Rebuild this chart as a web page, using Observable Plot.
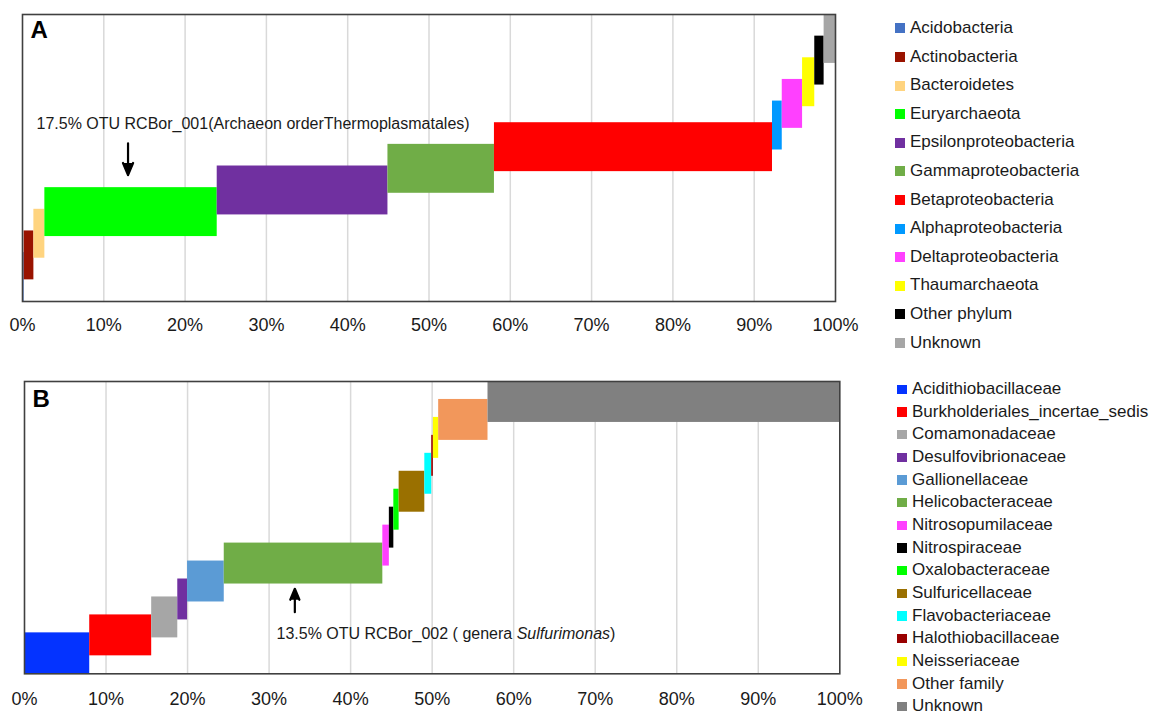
<!DOCTYPE html>
<html><head><meta charset="utf-8">
<script src="https://cdn.jsdelivr.net/npm/d3@7"></script>
<script src="https://cdn.jsdelivr.net/npm/@observablehq/plot@0.6"></script>
<style>
body{margin:0;background:#fff;font-family:"Liberation Sans",Arial,sans-serif;}
#root{position:relative;width:1150px;height:714px;overflow:hidden;background:#fff;}
.panel{position:absolute;left:0;}
.panel svg{overflow:visible;}
.item{position:absolute;white-space:nowrap;color:#1a1a1a;line-height:1;}
.sw{position:absolute;}
</style></head><body><div id="root"></div>
<script>
// ---- Panel A: phyla ----
const phylaA = ["Acidobacteria","Actinobacteria","Bacteroidetes","Euryarchaeota","Epsilonproteobacteria","Gammaproteobacteria","Betaproteobacteria","Alphaproteobacteria","Deltaproteobacteria","Thaumarchaeota","Other phylum","Unknown"];
const valuesA = [0.2, 1.2, 1.35, 21.2, 21.0, 13.1, 34.2, 1.2, 2.5, 1.5, 1.15, 1.4];
const colorsA = ["#4472C4","#991300","#FFD47F","#00FF00","#7030A0","#70AD47","#FF0000","#0099FF","#FF40FF","#FFFF00","#000000","#A6A6A6"];
const noteA = {category: "Euryarchaeota", text: "17.5% OTU RCBor_001(Archaeon orderThermoplasmatales)"};

// ---- Panel B: families ----
const familiesB = ["Acidithiobacillaceae","Burkholderiales_incertae_sedis","Comamonadaceae","Desulfovibrionaceae","Gallionellaceae","Helicobacteraceae","Nitrosopumilaceae","Nitrospiraceae","Oxalobacteraceae","Sulfuricellaceae","Flavobacteriaceae","Halothiobacillaceae","Neisseriaceae","Other family","Unknown"];
const valuesB = [8.0, 7.6, 3.2, 1.2, 4.5, 19.45, 0.8, 0.55, 0.65, 3.15, 0.85, 0.2, 0.65, 6.05, 43.15];
const colorsB = ["#0433FF","#FF0000","#A6A6A6","#7030A0","#5B9BD5","#70AD47","#FF40FF","#000000","#00FF00","#9A7000","#00FFFF","#990000","#FFFF00","#F2975B","#808080"];
const noteB = {category: "Helicobacteraceae", text: "13.5% OTU RCBor_002 ( genera Sulfurimonas)", italic: "Sulfurimonas"};

const xTicks = [0,10,20,30,40,50,60,70,80,90,100];
const gridTicks = [10,20,30,40,50,60,70,80,90];

const FONT = "'Liberation Sans', Arial, sans-serif";

function rowsOf(names, values, span) {
  const cum = d3.cumsum(values);
  return names.map((name, i) => ({name, start: cum[i] - values[i], end: cum[i], lo: i, hi: i + span, mid: cum[i] - values[i] / 2}));
}

function panel(cfg) {
  const rows = rowsOf(cfg.names, cfg.values, cfg.span);
  const target = rows.find(r => r.name === cfg.note.category);
  const up = cfg.noteAbove;
  const arrowRow = [{x: target.mid, y1: up ? target.hi + 2 : target.lo - 2, y2: up ? target.hi : target.lo}];
  const chart = Plot.plot({
    width: 860, height: cfg.height,
    marginLeft: cfg.ml, marginRight: cfg.mr, marginTop: cfg.mt, marginBottom: cfg.mb,
    style: {fontFamily: FONT, fontSize: "17px", background: "white", color: "#1a1a1a", overflow: "visible"},
    x: {domain: [0, 100], axis: null},
    y: {domain: [0, cfg.names.length - 1 + cfg.span], axis: null},
    color: {domain: cfg.names, range: cfg.colors},
    marks: [
      Plot.gridX(gridTicks, {stroke: "#d9d9d9", strokeOpacity: 1, strokeWidth: 1.5}),
      Plot.rect(rows, {x1: "start", x2: "end", y1: "lo", y2: "hi", fill: "name"}),
      Plot.frame({stroke: "#404040", strokeWidth: 1.6}),
      Plot.axisX(xTicks, {tickSize: 0, tickPadding: cfg.tickPad, tickFormat: d => d + "%", fontSize: 18, fill: "#1a1a1a"}),
      Plot.text([cfg.letter], {frameAnchor: "top-left", dx: cfg.letterDx, dy: cfg.letterDy, lineAnchor: "top", textAnchor: "start", fontWeight: "bold", fontSize: 24, fill: "#000"}),
      Plot.arrow(arrowRow, {x1: "x", x2: "x", y1: "y1", y2: "y2", dx: cfg.arrowDx, stroke: "#000", fill: "#000", strokeWidth: 2.2, headLength: 9, headAngle: 45, insetStart: cfg.insetStart, insetEnd: cfg.insetEnd}),
      Plot.text(arrowRow, {x: "x", y: "y1", text: () => cfg.note.text, dx: cfg.textDx, dy: cfg.textDy, textAnchor: "start", fontSize: 16, fill: "#1a1a1a"})
    ]
  });
  if (cfg.note.italic) {
    d3.select(chart).selectAll("text").filter(function() { return this.textContent === cfg.note.text; }).each(function() {
      const t = d3.select(this);
      const [a, b] = cfg.note.text.split(cfg.note.italic);
      t.text(null);
      t.append("tspan").text(a);
      t.append("tspan").attr("font-style", "italic").text(cfg.note.italic);
      t.append("tspan").text(b);
    });
  }
  const div = document.createElement("div");
  div.className = "panel";
  div.style.top = cfg.top + "px";
  div.appendChild(chart);
  return div;
}

function legend(names, colors, lg) {
  const box = document.createElement("div");
  names.forEach((n, i) => {
    const cy = lg.y0 + i * lg.step;
    const sw = document.createElement("div");
    sw.className = "sw";
    Object.assign(sw.style, {left: lg.sx + "px", top: (cy - lg.size / 2) + "px", width: lg.size + "px", height: lg.size + "px", background: colors[i]});
    const tx = document.createElement("div");
    tx.className = "item";
    Object.assign(tx.style, {left: lg.tx + "px", top: (cy - lg.font * 0.55) + "px", fontSize: lg.font + "px"});
    tx.textContent = n;
    box.appendChild(sw); box.appendChild(tx);
  });
  return box;
}

const root = document.getElementById("root");
root.appendChild(panel({
  names: phylaA, values: valuesA, colors: colorsA, note: noteA, span: 2.26, letter: "A",
  top: 0, height: 345, ml: 22, mr: 25, mt: 14, mb: 44, tickPad: 17,
  letterDx: 8, letterDy: 6.5, noteAbove: true, arrowDx: -3, insetStart: -1, insetEnd: 12.5, textDx: -94.5, textDy: -20.5
}));
root.appendChild(panel({
  names: familiesB, values: valuesB, colors: colorsB, note: noteB, span: 2.28, letter: "B",
  top: 370, height: 344, ml: 24, mr: 20.7, mt: 11, mb: 40.7, tickPad: 18,
  letterDx: 8, letterDy: 8, noteAbove: false, arrowDx: -8.7, insetStart: 7.7, insetEnd: 4.7, textDx: -27, textDy: 14
}));
root.appendChild(legend(phylaA, colorsA, {y0: 28.3, step: 28.6, sx: 895, size: 10, tx: 910, font: 17}));
root.appendChild(legend(familiesB, colorsB, {y0: 389.3, step: 22.67, sx: 897, size: 9.5, tx: 912, font: 17}));
</script></body></html>
